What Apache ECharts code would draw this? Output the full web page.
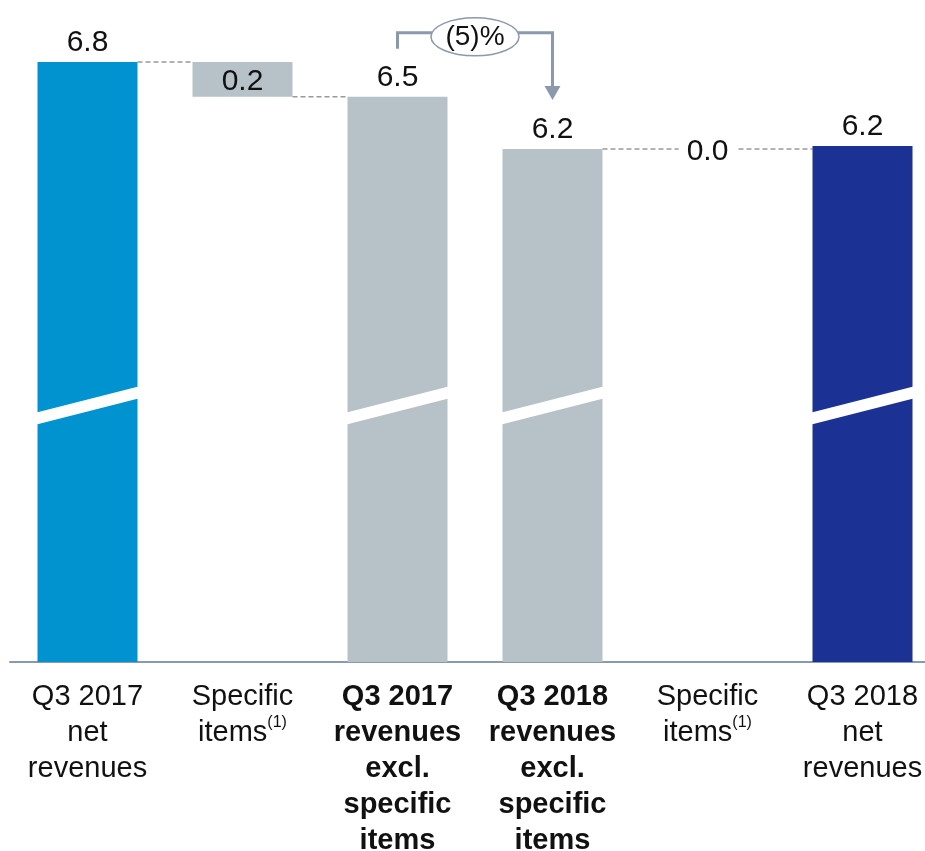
<!DOCTYPE html>
<html>
<head>
<meta charset="utf-8">
<script src="https://cdn.jsdelivr.net/npm/echarts@6/dist/echarts.min.js"></script>
<style>
    html, body { margin: 0; padding: 0; background: #fff; }
    #chart { width: 925px; height: 851px; }
</style>
</head>
<body>
<div id="chart"></div>
<script>
    // categories (rich text keys: b = bold, s = superscript)
    let categories = [
        'Q3 2017\nnet\nrevenues',
        'Specific\nitems{s|(1)}',
        '{b|Q3 2017}\n{b|revenues}\n{b|excl.}\n{b|specific}\n{b|items}',
        '{b|Q3 2018}\n{b|revenues}\n{b|excl.}\n{b|specific}\n{b|items}',
        'Specific\nitems{s|(1)}',
        'Q3 2018\nnet\nrevenues'
    ];
    // invisible base + visible part of the waterfall
    let baseValues = [0, 6.56, 0, 0, 6.2, 0];
    let barValues = [6.8, 0.24, 6.56, 6.2, 0, 6.22];
    let valueLabels = ['6.8', '0.2', '6.5', '6.2', '0.0', '6.2'];
    let barColors = ['#0093d0', '#b6c1c8', '#b6c1c8', '#b6c1c8', '#b6c1c8', '#1b3194'];
    // dashed connectors: [from, to, level]
    let connectors = [[0, 1, 6.8], [1, 2, 6.56], [3, 5, 6.2]];
    // axis break marks: [category, level]
    let breakMarks = [[0, 4.43], [2, 4.43], [3, 4.43], [5, 4.43]];
    // change bubble: [from, to, fromLevel, toLevel]
    let changeNote = [[2, 3, 6.56, 6.2]];
    let changeText = '(5)%';

    let lineColor = '#8a99ab';
    let chart = echarts.init(document.getElementById('chart'));

    let visibleData = barValues.map(function (v, i) {
        let item = {value: v, itemStyle: {color: barColors[i]}};
        if (i === 1) {
            item.label = {position: 'inside', offset: [0, 2]};
        } else if (i === 4) {
            item.label = {position: 'inside', offset: [0, 3], backgroundColor: '#fff', padding: [2, 8]};
        }
        return item;
    });

    chart.setOption({
        animation: false,
        grid: {left: 10, right: -15, top: 62, bottom: 189, outerBoundsMode: 'none', containLabel: false},
        xAxis: {
            type: 'category',
            data: categories,
            axisLine: {lineStyle: {color: lineColor, width: 2}},
            axisTick: {show: false},
            axisLabel: {
                interval: 0,
                margin: 17,
                color: '#111',
                fontFamily: 'Liberation Sans',
                fontSize: 29,
                lineHeight: 36,
                rich: {
                    b: {fontWeight: 'bold', fontFamily: 'Liberation Sans', fontSize: 29, lineHeight: 36, color: '#111'},
                    s: {fontSize: 16, fontFamily: 'Liberation Sans', lineHeight: 36, verticalAlign: 'top', padding: [0, 0, 12, 0], color: '#111'}
                }
            }
        },
        yAxis: {
            type: 'value',
            min: 2.66,
            max: 6.8,
            show: false,
            splitLine: {show: false}
        },
        series: [
            {
                type: 'bar',
                stack: 'w',
                barWidth: 100,
                silent: true,
                itemStyle: {color: 'transparent'},
                data: baseValues
            },
            {
                type: 'bar',
                stack: 'w',
                barWidth: 100,
                z: 2,
                label: {
                    show: true,
                    position: 'top',
                    distance: 4,
                    color: '#111',
                    fontFamily: 'Liberation Sans',
                    fontSize: 30,
                    formatter: function (p) {
                        return valueLabels[p.dataIndex];
                    }
                },
                data: visibleData
            },
            {
                // dashed connectors between bars
                type: 'custom',
                z: 1,
                silent: true,
                data: connectors,
                renderItem: function (params, api) {
                    let half = 50;
                    let a = api.coord([api.value(0), api.value(2)]);
                    let b = api.coord([api.value(1), api.value(2)]);
                    return {
                        type: 'line',
                        shape: {x1: a[0] + half, y1: a[1], x2: b[0] - half, y2: b[1]},
                        style: {stroke: '#9a9a9a', lineWidth: 1.5, lineDash: [5, 3]}
                    };
                }
            },
            {
                // white slanted break across the tall bars
                type: 'custom',
                z: 3,
                silent: true,
                data: breakMarks,
                renderItem: function (params, api) {
                    let c = api.coord([api.value(0), api.value(1)]);
                    let h = 51;
                    return {
                        type: 'polygon',
                        shape: {
                            points: [
                                [c[0] - h, c[1] + 7],
                                [c[0] + h, c[1] - 19],
                                [c[0] + h, c[1] - 7],
                                [c[0] - h, c[1] + 19]
                            ]
                        },
                        style: {fill: '#fff'}
                    };
                }
            },
            {
                // percentage change bubble with arrow
                type: 'custom',
                z: 4,
                silent: true,
                data: changeNote,
                renderItem: function (params, api) {
                    let a = api.coord([api.value(0), api.value(2)]);
                    let b = api.coord([api.value(1), api.value(3)]);
                    let topY = a[1] - 64;
                    let cx = (a[0] + b[0]) / 2;
                    let tipY = b[1] - 49;
                    let st = {stroke: lineColor, lineWidth: 3, fill: null};
                    return {
                        type: 'group',
                        children: [
                            {type: 'polyline', shape: {points: [[a[0], a[1] - 48], [a[0], topY], [cx - 40, topY]]}, style: st},
                            {type: 'polyline', shape: {points: [[cx + 40, topY], [b[0], topY], [b[0], tipY - 12]]}, style: st},
                            {type: 'polygon', shape: {points: [[b[0] - 8, tipY - 14], [b[0] + 8, tipY - 14], [b[0], tipY]]}, style: {fill: lineColor}},
                            {type: 'ellipse', shape: {cx: cx, cy: topY + 4, rx: 44, ry: 19}, style: {fill: '#fff', stroke: lineColor, lineWidth: 1.5}},
                            {
                                type: 'text',
                                x: cx, y: topY + 4,
                                style: {
                                    text: changeText, fill: '#111', fontSize: 28,
                                    fontFamily: 'Liberation Sans', align: 'center', verticalAlign: 'middle'
                                }
                            }
                        ]
                    };
                }
            }
        ]
    });
</script>
</body>
</html>
